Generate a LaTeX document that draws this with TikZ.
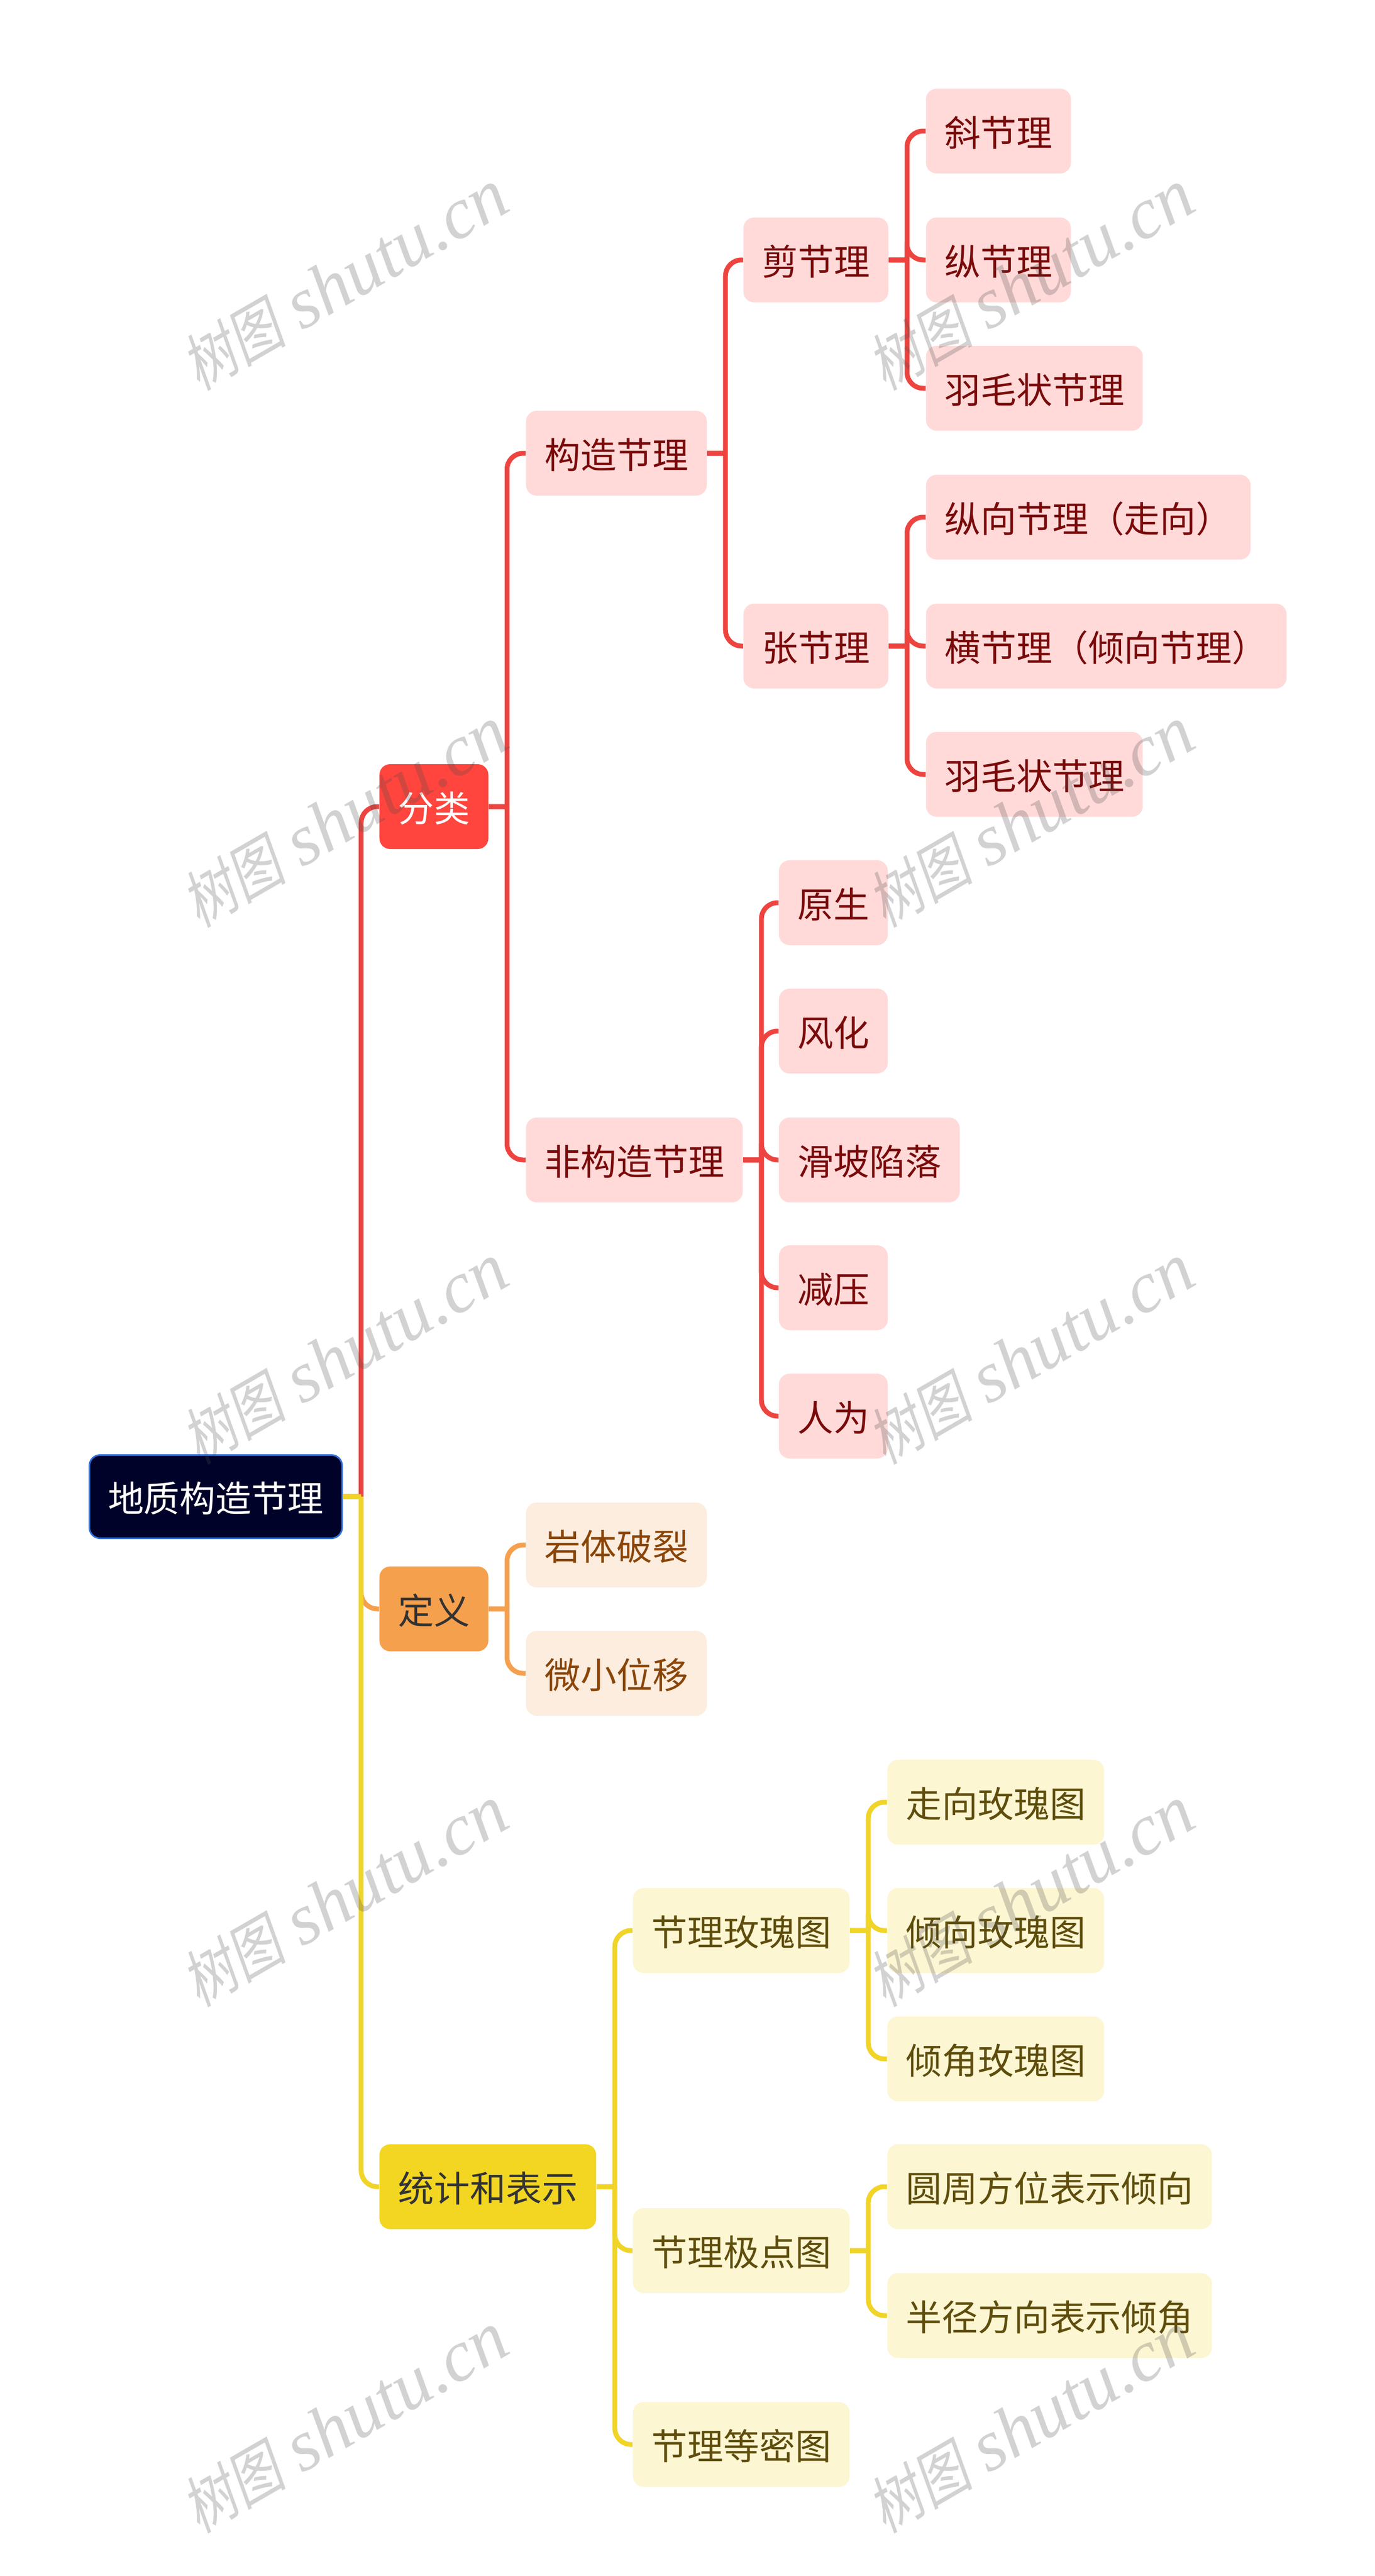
\documentclass[tikz,border=0pt]{standalone}
\usepackage{fontspec}
\setmainfont{Noto Sans CJK SC}
\newfontfamily\wmcjk[FakeSlant=0.18,FakeStretch=0.82]{Noto Sans CJK SC}
\newfontfamily\wmlat{Liberation Serif}
\definecolor{rootfill}{HTML}{000229}
\definecolor{rootline}{HTML}{2F6FDB}
\definecolor{redline}{HTML}{EE4440}
\definecolor{redfill}{HTML}{FF453D}
\definecolor{redsoft}{HTML}{FFDAD9}
\definecolor{redtext}{HTML}{7A0A0A}
\definecolor{orline}{HTML}{F5A04D}
\definecolor{orsoft}{HTML}{FDEDDF}
\definecolor{ortext}{HTML}{8A4508}
\definecolor{yeline}{HTML}{F1D428}
\definecolor{yefill}{HTML}{F2D622}
\definecolor{yesoft}{HTML}{FDF6D2}
\definecolor{yetext}{HTML}{5E4D0C}
\definecolor{darktext}{HTML}{333333}
\tikzset{
	topic/.style={anchor=west,rounded corners=0.2cm,inner xsep=0.345cm,inner ysep=0pt,minimum height=1.58cm,text height=0.62cm,text depth=0.06cm,font=\fontsize{19.05pt}{19.05pt}\selectfont},
	redsub/.style={topic,fill=redsoft,text=redtext},
	orsub/.style={topic,fill=orsoft,text=ortext},
	yesub/.style={topic,fill=yesoft,text=yetext},
	branch/.style={line width=0.09cm,rounded corners=0.3cm,to path={(\tikztostart.east) -- ++(0.34,0) ++(0,0) |- (\tikztotarget.west)}},
	mark wm/.style={rotate=30,gray!60!black,text opacity=0.25,font=\fontsize{38.5pt}{38.5pt}\selectfont},
}
\begin{document}
\begin{tikzpicture}
	\useasboundingbox[fill=white] (0,0) rectangle (25.6,-47.97);

	\node[topic,fill=rootfill,draw=rootline,line width=0.03cm,text=white,minimum height=1.55cm] at (1.65,-27.87)(root){地质构造节理};

	\node[topic,fill=redfill,text=white] at (7.06,-15.02)(fenlei){分类};
	\node[redsub] at (9.79,-8.44)(gouzao){构造节理};
	\node[redsub] at (9.79,-21.6)(feigou){非构造节理};
	\node[redsub] at (13.84,-4.84)(jian){剪节理};
	\node[redsub] at (13.84,-12.03)(zhang){张节理};
	\node[redsub] at (17.24,-2.44)(xie){斜节理};
	\node[redsub] at (17.24,-4.84)(zong){纵节理};
	\node[redsub] at (17.24,-7.23)(yumao){羽毛状节理};
	\node[redsub] at (17.24,-9.63)(zongxiang){纵向节理（走向）};
	\node[redsub] at (17.24,-12.03)(heng){横节理（倾向节理）};
	\node[redsub] at (17.24,-14.42)(yumaob){羽毛状节理};
	\node[redsub] at (14.5,-16.81)(yuansheng){原生};
	\node[redsub] at (14.5,-19.2)(fenghua){风化};
	\node[redsub] at (14.5,-21.6)(huapo){滑坡陷落};
	\node[redsub] at (14.5,-23.98)(jianya){减压};
	\node[redsub] at (14.5,-26.37)(renwei){人为};

	\node[topic,fill=orline,text=darktext] at (7.06,-29.96)(dingyi){定义};
	\node[orsub] at (9.79,-28.77)(yanti){岩体破裂};
	\node[orsub] at (9.79,-31.16)(weixiao){微小位移};

	\node[topic,fill=yefill,text=darktext] at (7.06,-40.72)(tongji){统计和表示};
	\node[yesub] at (11.78,-35.95)(meigui){节理玫瑰图};
	\node[yesub] at (11.78,-41.91)(jidian){节理极点图};
	\node[yesub] at (11.78,-45.52)(dengmi){节理等密图};
	\node[yesub] at (16.52,-33.56)(zouxiang){走向玫瑰图};
	\node[yesub] at (16.52,-35.95)(qingxiang){倾向玫瑰图};
	\node[yesub] at (16.52,-38.34)(qingjiao){倾角玫瑰图};
	\node[yesub] at (16.52,-40.72)(yuanzhou){圆周方位表示倾向};
	\node[yesub] at (16.52,-43.12)(banjing){半径方向表示倾角};

	\path[branch,draw=redline](root)edge(fenlei)(fenlei)edge(gouzao)(fenlei)edge(feigou)(gouzao)edge(jian)(gouzao)edge(zhang);
	\path[branch,draw=redline](jian)edge(xie)(jian)edge(zong)(jian)edge(yumao)(zhang)edge(zongxiang)(zhang)edge(heng)(zhang)edge(yumaob);
	\path[branch,draw=redline](feigou)edge(yuansheng)(feigou)edge(fenghua)(feigou)edge(huapo)(feigou)edge(jianya)(feigou)edge(renwei);
	\path[branch,draw=orline](root)edge(dingyi)(dingyi)edge(yanti)(dingyi)edge(weixiao);
	\path[branch,draw=yeline](root)edge(tongji)(tongji)edge(meigui)(tongji)edge(jidian)(tongji)edge(dengmi);
	\path[branch,draw=yeline](meigui)edge(zouxiang)(meigui)edge(qingxiang)(meigui)edge(qingjiao)(jidian)edge(yuanzhou)(jidian)edge(banjing);

	\foreach \wx in {6.42,19.2}
		\foreach \wy in {-5.2,-15.2,-25.2,-35.3,-45.1}
			\node[mark wm] at (\wx,\wy){{\wmcjk\fontsize{33pt}{33pt}\selectfont 树图} {\wmlat\itshape shutu.cn}};
\end{tikzpicture}
\end{document}
